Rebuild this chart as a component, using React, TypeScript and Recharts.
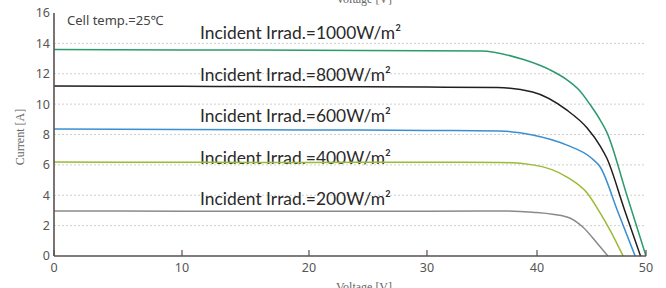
import {
  LineChart,
  Line,
  XAxis,
  YAxis,
  CartesianGrid,
} from "recharts";

// I-V curves at 25°C, one pair of arrays per irradiance level
const v1000 = [0, 10, 20, 30, 34.9, 38.7, 41.2, 42.75, 43.9, 44.9, 45.8, 46.4, 48.2, 50];
const i1000 = [13.6, 13.57, 13.55, 13.52, 13.5, 12.95, 12.25, 11.6, 10.9, 9.94, 8.95, 8.16, 4.1, 0];

const v800 = [0, 10, 20, 30, 36.4, 39.6, 42.75, 44.6, 45.8, 46.4, 48, 49.5];
const i800 = [11.19, 11.17, 11.15, 11.12, 11.09, 10.8, 9.6, 8.43, 7.24, 6.45, 3.1, 0];

const v600 = [0, 10, 20, 30, 36.6, 39.6, 42.75, 44.9, 45.8, 47.4, 49];
const i600 = [8.36, 8.33, 8.3, 8.27, 8.23, 7.97, 7.3, 6.5, 5.86, 2.95, 0];

const v400 = [0, 10, 20, 30, 36.6, 39.6, 42.75, 44.6, 45.8, 46.7, 47.9];
const i400 = [6.19, 6.17, 6.16, 6.17, 6.16, 6.0, 5.2, 4.15, 2.83, 1.71, 0];

const v200 = [0, 10, 20, 30, 36.6, 39.6, 42.75, 44.2, 45.5, 46.5];
const i200 = [2.96, 2.95, 2.94, 2.95, 2.97, 2.88, 2.57, 1.91, 0.86, 0];

const xTicks = [0, 10, 20, 30, 40, 50];
// where each x tick sits along the axis (the original axis is not evenly spaced)
const xTickFrac = [0, 0.2162, 0.4307, 0.63, 0.8159, 1];
const yTicks = [0, 2, 4, 6, 8, 10, 12, 14, 16];
const gridValues = [2, 4, 6, 8, 10, 12, 14];

const curves = [
  { name: "1000", v: v1000, i: i1000, color: "#2b9a6c", label: "Incident Irrad.=1000W/m²", labelY: 39 },
  { name: "800", v: v800, i: i800, color: "#231d1d", label: "Incident Irrad.=800W/m²", labelY: 81 },
  { name: "600", v: v600, i: i600, color: "#3a8fd2", label: "Incident Irrad.=600W/m²", labelY: 122 },
  { name: "400", v: v400, i: i400, color: "#9abb34", label: "Incident Irrad.=400W/m²", labelY: 164 },
  { name: "200", v: v200, i: i200, color: "#8a8a8a", label: "Incident Irrad.=200W/m²", labelY: 205 },
];

// piecewise-linear scale through the tick fractions, shaped like a d3 scale
function warpScale(fracs: number[], dom: number[] = [0, 1], rng: number[] = [0, 1]): any {
  const n = fracs.length - 1;
  const s: any = (v: number) => {
    const t = (Number(v) - dom[0]) / (dom[1] - dom[0]);
    const k = Math.max(0, Math.min(n - 1, Math.floor(t * n)));
    const f = fracs[k] + (fracs[k + 1] - fracs[k]) * (t * n - k);
    return rng[0] + (rng[1] - rng[0]) * f;
  };
  s.domain = (d?: number[]) => {
    if (!d) return dom.slice();
    dom = d.map(Number);
    return s;
  };
  s.range = (r?: number[]) => {
    if (!r) return rng.slice();
    rng = r.map(Number);
    return s;
  };
  s.copy = () => warpScale(fracs, dom.slice(), rng.slice());
  s.ticks = () => fracs.map((_, k) => dom[0] + ((dom[1] - dom[0]) * k) / n);
  s.tickFormat = () => (d: number) => String(d);
  s.nice = () => s;
  s.clamp = () => s;
  s.invert = (px: number) => {
    const f = (px - rng[0]) / (rng[1] - rng[0]);
    let k = 0;
    while (k < n - 1 && f > fracs[k + 1]) k++;
    const t = (k + (f - fracs[k]) / (fracs[k + 1] - fracs[k])) / n;
    return dom[0] + t * (dom[1] - dom[0]);
  };
  return s;
}

const xScale = warpScale(xTickFrac);

const axisColor = "#5a5151";
const tickStyle = { fontSize: 12.5, fill: "#555", fontFamily: "Noto Sans" };
const titleFont = { fontFamily: "Liberation Serif", fontSize: 12, fill: "#666" };

export default function App() {
  return (
    <div style={{ position: "absolute", left: 0, top: 0, width: 666, height: 288, background: "#fff" }}>
      <LineChart width={666} height={288} margin={{ top: 13, right: 20, bottom: 0, left: 0 }}>
        <CartesianGrid
          vertical={false}
          horizontalValues={gridValues}
          stroke="#cfcfcf"
          strokeDasharray="2 2"
        />
        <XAxis
          type="number"
          dataKey="v"
          domain={[0, 50]}
          ticks={xTicks}
          scale={xScale}
          allowDataOverflow
          height={32}
          tickSize={-6}
          tickMargin={13}
          tickLine={{ stroke: axisColor, strokeWidth: 1.2 }}
          axisLine={{ stroke: axisColor, strokeWidth: 1.6 }}
          tick={tickStyle}
          interval={0}
        />
        <YAxis
          type="number"
          domain={[0, 16]}
          ticks={yTicks}
          width={54}
          tickSize={0}
          tickMargin={4}
          tickLine={false}
          axisLine={{ stroke: axisColor, strokeWidth: 1.6 }}
          tick={tickStyle}
          interval={0}
        />
        {curves.map((c) => (
          <Line
            key={c.name}
            data={c.v.map((v, k) => ({ v, i: c.i[k] }))}
            dataKey="i"
            type="monotone"
            stroke={c.color}
            strokeWidth={1.5}
            dot={false}
            isAnimationActive={false}
          />
        ))}
        {curves.map((c) => (
          <text
            key={"l" + c.name}
            x={200}
            y={c.labelY}
            fontFamily="Lato"
            fontSize={17.4}
            fill="#2a2a2a"
          >
            {c.label}
          </text>
        ))}
        <text x={67} y={25} fontFamily="Noto Sans" fontSize={13} fill="#444">
          Cell temp.=25℃
        </text>
        <text x={364} y={3} textAnchor="middle" {...titleFont}>
          Voltage [V]
        </text>
        <text x={364} y={291} textAnchor="middle" {...titleFont}>
          Voltage [V]
        </text>
        <text
          x={0}
          y={0}
          transform="translate(24 137) rotate(-90)"
          textAnchor="middle"
          {...titleFont}
        >
          Current [A]
        </text>
      </LineChart>
    </div>
  );
}
